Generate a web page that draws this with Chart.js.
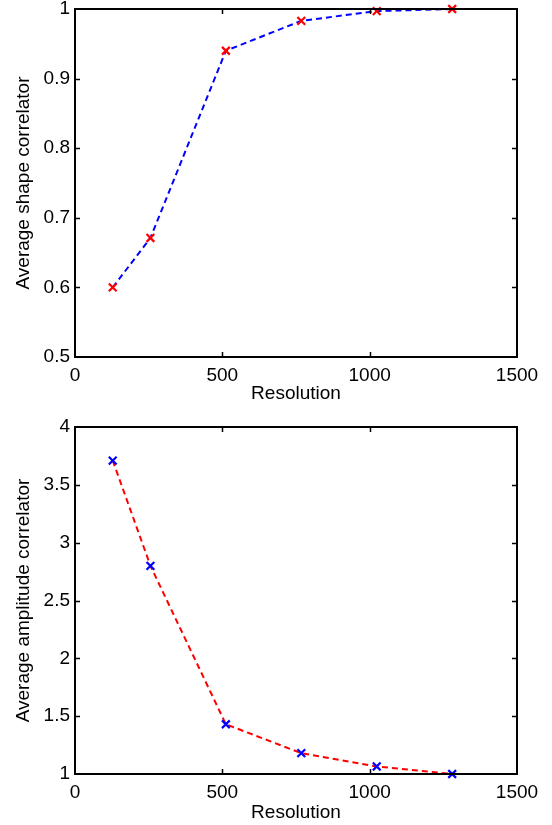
<!DOCTYPE html>
<html>
<head>
<meta charset="utf-8">
<script src="https://cdn.jsdelivr.net/npm/chart.js@4/dist/chart.umd.min.js"></script>
<style>
  html, body { margin: 0; padding: 0; background: #fff; }
  #wrap { position: relative; width: 552px; height: 825px; }
  .box { position: absolute; left: 0; width: 552px; }
</style>
</head>
<body>
<div id="wrap">
  <div class="box" style="top:0;height:412px"><canvas id="top"></canvas></div>
  <div class="box" style="top:412px;height:413px"><canvas id="bottom"></canvas></div>
</div>
<script>
const resolution = [128, 256, 512, 768, 1024, 1280];
const shapeCorr = [0.600, 0.671, 0.940, 0.983, 0.997, 1.000];
const amplitudeCorr = [3.71, 2.80, 1.43, 1.18, 1.065, 1.00];
const xTicks = [0, 500, 1000, 1500];
const shapeTicks = [0.5, 0.6, 0.7, 0.8, 0.9, 1];
const ampTicks = [1, 1.5, 2, 2.5, 3, 3.5, 4];

const FONT = { family: '"Liberation Sans", Arial, Helvetica, sans-serif', size: 19 };

// matlab style box with inward ticks on every side
const boxPlugin = {
  id: 'matlabBox',
  afterDraw(chart) {
    const { ctx, chartArea: a, scales } = chart;
    ctx.save();
    ctx.strokeStyle = '#000';
    ctx.lineWidth = 2;
    ctx.strokeRect(a.left, a.top, a.right - a.left, a.bottom - a.top);
    ctx.lineWidth = 1.5;
    const len = 5;
    ctx.beginPath();
    scales.x.ticks.forEach(t => {
      const px = Math.round(scales.x.getPixelForValue(t.value)) + 0.5;
      if (px <= a.left + 1 || px >= a.right - 1) return;
      ctx.moveTo(px, a.bottom); ctx.lineTo(px, a.bottom - len);
      ctx.moveTo(px, a.top); ctx.lineTo(px, a.top + len);
    });
    scales.y.ticks.forEach(t => {
      const py = Math.round(scales.y.getPixelForValue(t.value)) + 0.5;
      if (py <= a.top + 1 || py >= a.bottom - 1) return;
      ctx.moveTo(a.left, py); ctx.lineTo(a.left + len, py);
      ctx.moveTo(a.right, py); ctx.lineTo(a.right - len, py);
    });
    ctx.stroke();
    ctx.restore();
  }
};

function makeChart(id, values, yTicks, yTitle, lineColor, markColor, padTop, xHeight, titleGap) {
  return new Chart(document.getElementById(id), {
    type: 'line',
    data: {
      datasets: [{
        data: resolution.map((r, i) => ({ x: r, y: values[i] })),
        borderColor: lineColor,
        borderWidth: 2,
        borderDash: [6, 4],
        pointStyle: 'crossRot',
        pointRadius: 5.5,
        pointBorderWidth: 2.2,
        pointBorderColor: markColor,
        pointBackgroundColor: markColor,
        tension: 0,
        clip: false
      }]
    },
    options: {
      responsive: true,
      maintainAspectRatio: false,
      animation: false,
      layout: { padding: { top: padTop, right: 35, left: 0, bottom: 0 } },
      plugins: { legend: { display: false }, tooltip: { enabled: false } },
      scales: {
        x: {
          type: 'linear',
          min: 0, max: 1500,
          afterBuildTicks: s => { s.ticks = xTicks.map(v => ({ value: v })); },
          ticks: { color: '#000', font: FONT, padding: 7, maxRotation: 0, callback: v => String(v) },
          grid: { display: false, drawTicks: false },
          border: { display: false },
          title: { display: true, text: 'Resolution', color: '#000', font: FONT, padding: { top: 0, bottom: titleGap } },
          afterFit: s => { s.height = xHeight; s.paddingLeft = 0; s.paddingRight = 0; }
        },
        y: {
          type: 'linear',
          min: yTicks[0], max: yTicks[yTicks.length - 1],
          afterBuildTicks: s => { s.ticks = yTicks.map(v => ({ value: v })); },
          ticks: { color: '#000', font: FONT, padding: 5, callback: v => String(v) },
          grid: { display: false, drawTicks: false },
          border: { display: false },
          title: { display: true, text: yTitle, color: '#000', font: FONT, padding: { top: 12, bottom: 0 } },
          afterFit: s => { s.width = 75; s.paddingTop = 0; s.paddingBottom = 0; }
        }
      }
    },
    plugins: [boxPlugin]
  });
}

makeChart('top', shapeCorr, shapeTicks, 'Average shape correlator', '#0000ff', '#ff0000', 9, 55, 7);
makeChart('bottom', amplitudeCorr, ampTicks, 'Average amplitude correlator', '#ff0000', '#0000ff', 15, 51, 1);
</script>
</body>
</html>
